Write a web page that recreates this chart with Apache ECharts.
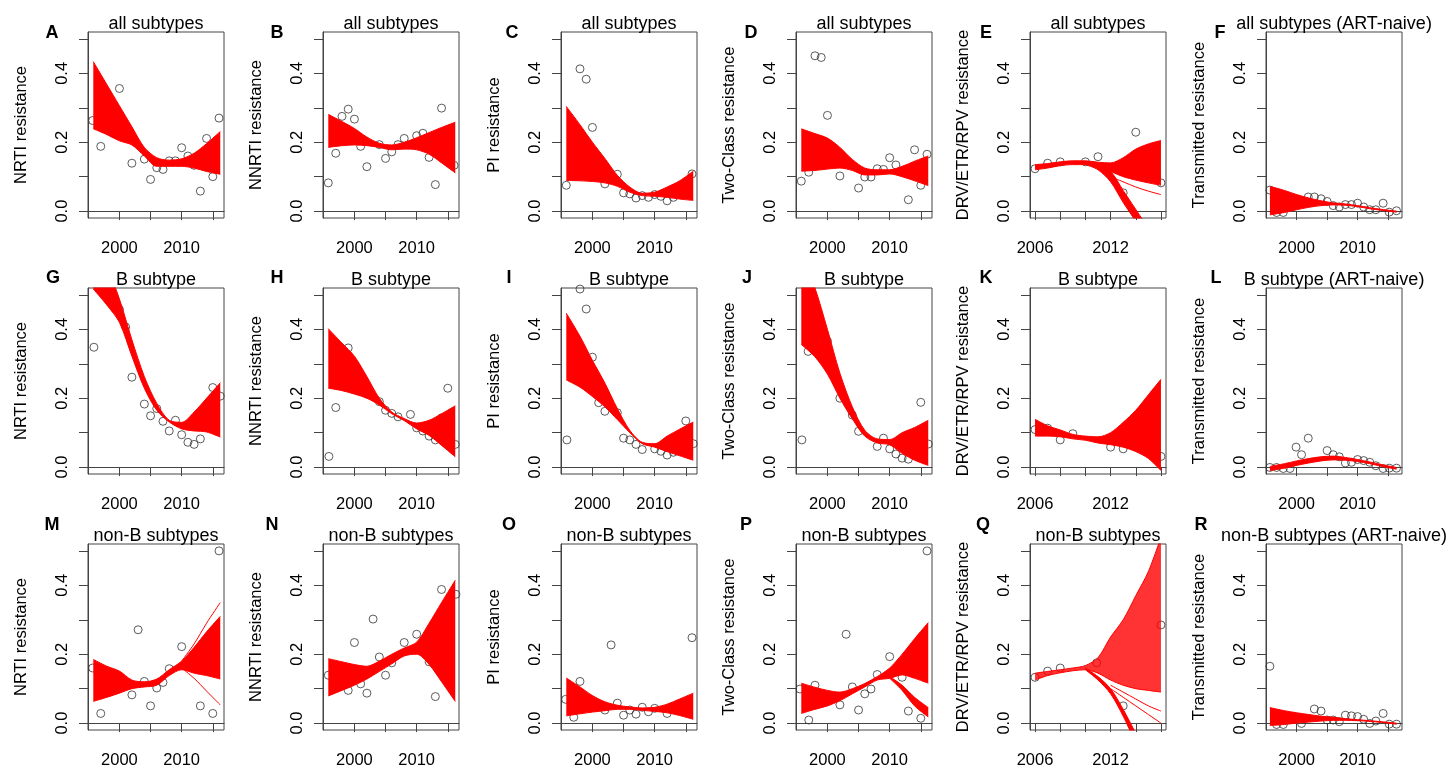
<!DOCTYPE html>
<html>
<head>
<meta charset="utf-8">
<script src="https://cdn.jsdelivr.net/npm/echarts@6/dist/echarts.min.js"></script>
<style>
html,body{margin:0;padding:0;background:#fff}
#main{width:1453px;height:769px}
</style>
</head>
<body>
<div id="main"></div>
<script>
// tick values and labels
var yTicks = [0, 0.1, 0.2, 0.3, 0.4, 0.5];
var yLabels = [0, 0.2, 0.4];
var xTicksYear = [2000, 2005, 2010, 2015];
var xLabelsYear = [2000, 2010];
var xTicksDrv = [2006, 2008, 2010, 2012, 2014, 2016];
var xLabelsDrv = [2006, 2012];

// knot years of the bootstrap curve bundles
var yrsStd = [1995.8, 1998, 2000, 2002, 2004, 2006, 2008, 2010, 2012, 2014, 2016.2];
var yrsDrv = [2006, 2007, 2008, 2009, 2010, 2011, 2012, 2013, 2014, 2015, 2016];
var yrsNaive = [1995.6, 1998, 2000, 2002, 2004, 2006, 2008, 2010, 2012, 2014, 2016.4];

var rowTitles = ['all subtypes', 'B subtype', 'non-B subtypes'];
var colNames = ['NRTI resistance', 'NNRTI resistance', 'PI resistance', 'Two-Class resistance', 'DRV/ETR/RPV resistance', 'Transmitted resistance'];
var letters = ['A','B','C','D','E','F','G','H','I','J','K','L','M','N','O','P','Q','R'];

// --- row 1: all subtypes
var ptsA = [[1995.7,0.263],[1997,0.188],[2000,0.356],[2002,0.139],[2004,0.151],[2005,0.092],[2006,0.126],[2007,0.121],[2008,0.146],[2009,0.146],[2010,0.184],[2011,0.160],[2012,0.133],[2013,0.058],[2014,0.211],[2015,0.100],[2016,0.270]];
var hiA = [0.434, 0.367, 0.306, 0.245, 0.185, 0.155, 0.148, 0.152, 0.168, 0.196, 0.231];
var loA = [0.239, 0.222, 0.204, 0.192, 0.160, 0.130, 0.130, 0.130, 0.125, 0.115, 0.107];

var ptsB = [[1995.8,0.082],[1997,0.168],[1998,0.275],[1999,0.296],[2000,0.267],[2001,0.188],[2002,0.129],[2004,0.193],[2005,0.153],[2006,0.172],[2007,0.193],[2008,0.211],[2010,0.219],[2011,0.226],[2012,0.156],[2013,0.077],[2014,0.299],[2016,0.133]];
var hiB = [0.281, 0.260, 0.240, 0.215, 0.197, 0.192, 0.200, 0.213, 0.228, 0.243, 0.258];
var loB = [0.185, 0.190, 0.192, 0.190, 0.185, 0.178, 0.180, 0.178, 0.165, 0.140, 0.111];

var ptsC = [[1995.8,0.075],[1998,0.413],[1999,0.383],[2000,0.243],[2002,0.079],[2004,0.107],[2005,0.053],[2006,0.050],[2007,0.038],[2008,0.045],[2009,0.040],[2010,0.048],[2011,0.043],[2012,0.030],[2013,0.040],[2016,0.108]];
var hiC = [0.304, 0.251, 0.200, 0.153, 0.104, 0.070, 0.052, 0.055, 0.070, 0.088, 0.116];
var loC = [0.089, 0.088, 0.086, 0.082, 0.072, 0.055, 0.045, 0.043, 0.040, 0.035, 0.031];

var ptsD = [[1995.8,0.087],[1997,0.113],[1998,0.451],[1999,0.446],[2000,0.278],[2002,0.102],[2005,0.067],[2006,0.099],[2007,0.099],[2008,0.123],[2009,0.121],[2010,0.155],[2011,0.134],[2013,0.033],[2014,0.178],[2015,0.075],[2016,0.165]];
var hiD = [0.239, 0.225, 0.212, 0.185, 0.150, 0.125, 0.120, 0.120, 0.130, 0.145, 0.160];
var loD = [0.116, 0.118, 0.122, 0.125, 0.118, 0.105, 0.105, 0.108, 0.100, 0.088, 0.074];

var ptsE = [[2006,0.123],[2007,0.139],[2008,0.143],[2010,0.143],[2011,0.158],[2013,0.053],[2014,0.229],[2016,0.082]];
var hiE = [0.135, 0.138, 0.143, 0.146, 0.146, 0.142, 0.140, 0.155, 0.180, 0.195, 0.205];
var loE = [0.120, 0.125, 0.132, 0.135, 0.135, 0.128, 0.115, 0.100, 0.090, 0.082, 0.075];
var diveYrsE = [2010, 2011, 2012, 2013, 2014, 2015];
var diveHiE = [0.140, 0.130, 0.115, 0.060, 0.005, -0.050];
var diveLoE = [0.135, 0.120, 0.085, 0.025, -0.030, -0.090];
var strandYrsE = [2012, 2013, 2014, 2015, 2016];
var strandE = [0.100, 0.085, 0.070, 0.058, 0.048];

var ptsF = [[1995.6,0.061],[1996.7,-0.004],[1997.8,-0.004],[2001.9,0.041],[2002.9,0.041],[2004,0.036],[2005,0.028],[2006,0.016],[2007,0.012],[2008,0.019],[2009,0.019],[2010,0.023],[2011,0.012],[2012,0.004],[2013,0.004],[2014.2,0.023],[2015.2,-0.003],[2016.4,0.001]];
var hiF = [0.072, 0.060, 0.048, 0.038, 0.030, 0.024, 0.021, 0.016, 0.010, 0.005, 0.000];
var loF = [-0.011, -0.004, 0.004, 0.011, 0.016, 0.018, 0.017, 0.013, 0.007, 0.002, -0.003];

// --- row 2: B subtype
var ptsG = [[1995.9,0.348],[2000,0.458],[2001,0.407],[2002,0.261],[2004,0.183],[2005,0.149],[2006,0.170],[2007,0.133],[2008,0.105],[2009,0.136],[2010,0.094],[2011,0.072],[2012,0.066],[2013,0.082],[2015,0.231],[2016.2,0.206]];
var hiG = [0.640, 0.580, 0.488, 0.370, 0.263, 0.185, 0.136, 0.130, 0.160, 0.200, 0.245];
var loG = [0.517, 0.470, 0.420, 0.322, 0.229, 0.165, 0.131, 0.111, 0.105, 0.102, 0.087];

var ptsH = [[1995.9,0.031],[1997,0.173],[1999,0.346],[2002,0.212],[2004,0.190],[2005,0.165],[2006,0.156],[2007,0.146],[2009,0.153],[2010,0.114],[2011,0.105],[2012,0.090],[2013,0.079],[2014,0.143],[2015,0.229],[2016.2,0.066]];
var hiH = [0.402, 0.360, 0.322, 0.263, 0.200, 0.160, 0.141, 0.128, 0.136, 0.155, 0.178];
var loH = [0.229, 0.222, 0.212, 0.200, 0.180, 0.155, 0.135, 0.111, 0.092, 0.063, 0.030];

var ptsI = [[1995.9,0.079],[1998,0.517],[1999,0.459],[2000,0.319],[2001,0.187],[2002,0.162],[2004,0.158],[2005,0.084],[2006,0.079],[2007,0.066],[2008,0.051],[2010,0.053],[2011,0.046],[2012,0.035],[2013,0.043],[2015,0.134],[2016.2,0.068]];
var hiI = [0.447, 0.380, 0.310, 0.244, 0.170, 0.107, 0.072, 0.068, 0.090, 0.110, 0.131];
var loI = [0.253, 0.232, 0.205, 0.175, 0.138, 0.100, 0.068, 0.058, 0.045, 0.033, 0.020];

var ptsJ = [[1995.9,0.079],[1996.9,0.336],[2000,0.366],[2002,0.200],[2004,0.151],[2005,0.104],[2008,0.060],[2009,0.084],[2010,0.053],[2011,0.038],[2012,0.026],[2013,0.023],[2015,0.188],[2016.2,0.067]];
var hiJ = [0.620, 0.520, 0.400, 0.273, 0.175, 0.107, 0.082, 0.080, 0.100, 0.115, 0.136];
var loJ = [0.356, 0.320, 0.270, 0.200, 0.140, 0.090, 0.070, 0.065, 0.040, 0.020, 0.005];

var ptsK = [[2006,0.109],[2007,0.113],[2008,0.079],[2009,0.097],[2012,0.058],[2013,0.053],[2015.1,0.175],[2016,0.031]];
var hiK = [0.139, 0.120, 0.108, 0.095, 0.090, 0.088, 0.100, 0.130, 0.165, 0.210, 0.255];
var loK = [0.090, 0.090, 0.088, 0.082, 0.078, 0.070, 0.065, 0.058, 0.045, 0.025, -0.010];

var ptsL = [[1995.6,-0.001],[1996.7,-0.001],[1997.8,-0.004],[1998.9,-0.004],[1999.9,0.058],[2000.8,0.036],[2001.9,0.084],[2005,0.048],[2006,0.036],[2007,0.030],[2008,0.012],[2009,0.014],[2010,0.022],[2011,0.019],[2012,0.014],[2013,0.004],[2014.2,-0.004],[2015.2,-0.003],[2016.4,-0.003]];
var hiL = [0.002, 0.010, 0.018, 0.025, 0.030, 0.032, 0.028, 0.022, 0.015, 0.007, -0.001];
var loL = [-0.010, -0.003, 0.005, 0.012, 0.018, 0.021, 0.020, 0.016, 0.010, 0.002, -0.006];

// --- row 3: non-B subtypes
var ptsM = [[1995.7,0.160],[1997,0.028],[2000,0.131],[2002,0.082],[2003,0.271],[2004,0.121],[2005,0.050],[2006,0.102],[2007,0.118],[2008,0.158],[2010,0.222],[2012,0.160],[2013,0.050],[2015,0.028],[2016,0.500]];
var hiM = [0.185, 0.165, 0.151, 0.125, 0.120, 0.128, 0.155, 0.180, 0.220, 0.265, 0.310];
var loM = [0.063, 0.075, 0.087, 0.100, 0.105, 0.110, 0.138, 0.155, 0.145, 0.138, 0.128];
var strandYrsM = [2010, 2012, 2014, 2016.2];
var strandHiM = [0.180, 0.230, 0.290, 0.350];
var strandLoM = [0.160, 0.130, 0.093, 0.053];

var ptsN = [[1995.8,0.139],[1999,0.095],[2000,0.234],[2001,0.114],[2002,0.087],[2003,0.302],[2004,0.192],[2005,0.139],[2006,0.175],[2008,0.234],[2010,0.258],[2012,0.178],[2013,0.077],[2014,0.388],[2015,0.185],[2016.3,0.374]];
var hiN = [0.187, 0.178, 0.170, 0.165, 0.180, 0.200, 0.218, 0.235, 0.290, 0.350, 0.415];
var loN = [0.079, 0.095, 0.110, 0.128, 0.150, 0.172, 0.195, 0.200, 0.170, 0.120, 0.063];

var ptsO = [[1995.7,0.069],[1997,0.017],[1998,0.121],[2002,0.038],[2003,0.227],[2004,0.058],[2005,0.023],[2006,0.038],[2007,0.026],[2008,0.046],[2009,0.033],[2010,0.043],[2012,0.028],[2016,0.248]];
var hiO = [0.131, 0.105, 0.080, 0.062, 0.052, 0.047, 0.044, 0.046, 0.055, 0.070, 0.087];
var loO = [0.021, 0.027, 0.032, 0.036, 0.040, 0.040, 0.037, 0.034, 0.030, 0.022, 0.011];

var ptsP = [[1995.6,0.099],[1997,0.009],[1998,0.110],[2002,0.053],[2003,0.258],[2004,0.105],[2005,0.038],[2006,0.085],[2007,0.099],[2008,0.141],[2010,0.193],[2012,0.133],[2013,0.035],[2015,0.014],[2016,0.500]];
var hiP = [0.116, 0.104, 0.095, 0.090, 0.100, 0.115, 0.135, 0.160, 0.200, 0.245, 0.292];
var loP = [0.028, 0.040, 0.050, 0.065, 0.085, 0.105, 0.125, 0.130, 0.140, 0.130, 0.116];
var diveYrsP = [2010, 2012, 2014, 2016.2];
var diveHiP = [0.135, 0.110, 0.075, 0.045];
var diveLoP = [0.130, 0.095, 0.050, 0.018];

var ptsQ = [[2006,0.133],[2007,0.151],[2008,0.160],[2010.9,0.175],[2013,0.050],[2016,0.285]];
var hiQ = [0.145, 0.150, 0.155, 0.160, 0.167, 0.190, 0.250, 0.300, 0.370, 0.440, 0.540];
var loQ = [0.125, 0.138, 0.146, 0.152, 0.155, 0.145, 0.125, 0.110, 0.100, 0.095, 0.090];
var diveYrsQ = [2010, 2011, 2012, 2013, 2014];
var diveHiQ = [0.160, 0.135, 0.100, 0.040, -0.030];
var diveLoQ = [0.155, 0.125, 0.085, 0.020, -0.060];
var strandYrsQ = [2012, 2013, 2014, 2015, 2016];
var strandHiQ = [0.110, 0.090, 0.070, 0.050, 0.035];
var strandLoQ = [0.100, 0.075, 0.050, 0.025, 0.000];

var ptsR = [[1995.6,0.165],[1996.7,-0.004],[1997.8,-0.004],[2000.8,-0.001],[2002.9,0.041],[2004,0.035],[2005,0.009],[2006,0.009],[2007,0.004],[2008,0.023],[2009,0.021],[2010,0.019],[2011,0.011],[2012,-0.001],[2013,0.006],[2014.2,0.028],[2015.2,-0.003],[2016.4,-0.003]];
var hiR = [0.045, 0.036, 0.030, 0.025, 0.020, 0.017, 0.013, 0.010, 0.007, 0.004, 0.000];
var loR = [-0.007, -0.004, 0.000, 0.003, 0.006, 0.008, 0.008, 0.007, 0.005, 0.002, -0.003];

var panels = [
  {pts: ptsA, yrs: yrsStd, hi: hiA, lo: loA},
  {pts: ptsB, yrs: yrsStd, hi: hiB, lo: loB},
  {pts: ptsC, yrs: yrsStd, hi: hiC, lo: loC},
  {pts: ptsD, yrs: yrsStd, hi: hiD, lo: loD},
  {pts: ptsE, yrs: yrsDrv, hi: hiE, lo: loE, bands: [[diveYrsE, diveLoE, diveHiE]], strands: [[strandYrsE, strandE]]},
  {pts: ptsF, yrs: yrsNaive, hi: hiF, lo: loF},
  {pts: ptsG, yrs: yrsStd, hi: hiG, lo: loG},
  {pts: ptsH, yrs: yrsStd, hi: hiH, lo: loH},
  {pts: ptsI, yrs: yrsStd, hi: hiI, lo: loI},
  {pts: ptsJ, yrs: yrsStd, hi: hiJ, lo: loJ},
  {pts: ptsK, yrs: yrsDrv, hi: hiK, lo: loK},
  {pts: ptsL, yrs: yrsNaive, hi: hiL, lo: loL},
  {pts: ptsM, yrs: yrsStd, hi: hiM, lo: loM, strands: [[strandYrsM, strandHiM], [strandYrsM, strandLoM]]},
  {pts: ptsN, yrs: yrsStd, hi: hiN, lo: loN},
  {pts: ptsO, yrs: yrsStd, hi: hiO, lo: loO},
  {pts: ptsP, yrs: yrsStd, hi: hiP, lo: loP, bands: [[diveYrsP, diveLoP, diveHiP]]},
  {pts: ptsQ, yrs: yrsDrv, hi: hiQ, lo: loQ, fill: 0.8, bands: [[diveYrsQ, diveLoQ, diveHiQ]], strands: [[strandYrsQ, strandHiQ], [strandYrsQ, strandLoQ]]},
  {pts: ptsR, yrs: yrsNaive, hi: hiR, lo: loR}
];

// layout (pixels)
var colLeft = [88, 323, 561, 796, 1030, 1266];
var rowTop = [32, 288, 544];
var boxW = 136, boxH = 186;
var letterX = [[52, 277, 512, 751, 986, 1220], [53, 277, 509, 747, 986, 1216], [52, 272, 509, 746, 983, 1201]];
var letterY = [33, 278, 525];
var titleY = [24, 280, 536];

var RED = '#ff0000';
var INK = '#444';
var FONT = '"Liberation Sans", Arial, sans-serif';

var grids = [], xAxes = [], yAxes = [], series = [], graphics = [];
var bandNo = 0;

function addBand(i, yrs, lo, hi, fill) {
  var stack = 'band' + (bandNo++);
  var common = {
    type: 'line', xAxisIndex: i, yAxisIndex: i, stack: stack, stackStrategy: 'all',
    dimensions: ['v', 'year'], encode: {x: 'year', y: 'v'},
    smooth: 0.3, symbol: 'none', silent: true, animation: false,
    lineStyle: {color: RED, width: 1}
  };
  series.push(Object.assign({}, common, {
    data: yrs.map(function (y, k) { return [lo[k], y]; })
  }));
  series.push(Object.assign({}, common, {
    data: yrs.map(function (y, k) { return [hi[k] - lo[k], y]; }),
    areaStyle: {color: RED, opacity: fill}
  }));
}

panels.forEach(function (p, i) {
  var row = Math.floor(i / 6), col = i % 6;
  var left = colLeft[col], top = rowTop[row];
  var kind = col === 4 ? 'drv' : (col === 5 ? 'naive' : 'std');

  grids.push({left: left, top: top, width: boxW, height: boxH, show: true,
    borderColor: INK, borderWidth: 1, backgroundColor: 'transparent', containLabel: false});

  var xr = kind === 'drv' ? [2005.6, 2016.4] : (kind === 'naive' ? [1994.96, 2017.3] : [1994.95, 2016.8]);
  xAxes.push({
    type: 'value', gridIndex: i, min: xr[0], max: xr[1],
    axisLine: {show: true, lineStyle: {color: INK, width: 1}},
    splitLine: {show: false},
    axisTick: {show: true, length: 9, lineStyle: {color: INK, width: 1},
      customValues: kind === 'drv' ? xTicksDrv : xTicksYear},
    axisLabel: {customValues: kind === 'drv' ? xLabelsDrv : xLabelsYear,
      margin: 22, color: '#000', fontSize: 16.5, fontFamily: FONT,
      formatter: function (v) { return String(Math.round(v)); }}
  });
  yAxes.push({
    type: 'value', gridIndex: i, min: -0.02, max: 0.52,
    name: colNames[col], nameLocation: 'middle', nameGap: 58,
    nameTextStyle: {color: '#000', fontSize: 16.5, fontFamily: FONT},
    axisLine: {show: true, lineStyle: {color: INK, width: 1}},
    splitLine: {show: false},
    axisTick: {show: true, length: 9, lineStyle: {color: INK, width: 1}, customValues: yTicks},
    axisLabel: {customValues: yLabels, rotate: 90, margin: 17, color: '#000',
      fontSize: 16.5, fontFamily: FONT,
      formatter: function (v) { return v.toFixed(1); }}
  });

  series.push({
    type: 'scatter', xAxisIndex: i, yAxisIndex: i, data: p.pts, symbol: 'circle',
    symbolSize: 8, silent: true, animation: false,
    itemStyle: {color: 'rgba(0,0,0,0)', borderColor: '#333', borderWidth: 1}
  });
  var fill = p.fill == null ? 1 : p.fill;
  addBand(i, p.yrs, p.lo, p.hi, fill);
  (p.bands || []).forEach(function (b) { addBand(i, b[0], b[1], b[2], 1); });
  (p.strands || []).forEach(function (s) {
    series.push({
      type: 'line', xAxisIndex: i, yAxisIndex: i, smooth: 0.3, symbol: 'none',
      silent: true, animation: false, lineStyle: {color: RED, width: 1},
      data: s[0].map(function (y, k) { return [y, s[1][k]]; })
    });
  });

  var title = rowTitles[row] + (col === 5 ? ' (ART-naive)' : '');
  graphics.push({type: 'text', x: left + boxW / 2, y: titleY[row], silent: true,
    style: {text: title, fill: '#000', font: '18px ' + FONT, align: 'center', verticalAlign: 'middle'}});
  graphics.push({type: 'text', x: letterX[row][col], y: letterY[row], silent: true,
    style: {text: letters[i], fill: '#000', font: 'bold 18px ' + FONT, align: 'center', verticalAlign: 'middle'}});
});

var chart = echarts.init(document.getElementById('main'), null, {renderer: 'canvas'});
chart.setOption({
  backgroundColor: '#fff',
  animation: false,
  grid: grids,
  xAxis: xAxes,
  yAxis: yAxes,
  series: series,
  graphic: graphics
});
</script>
</body>
</html>
